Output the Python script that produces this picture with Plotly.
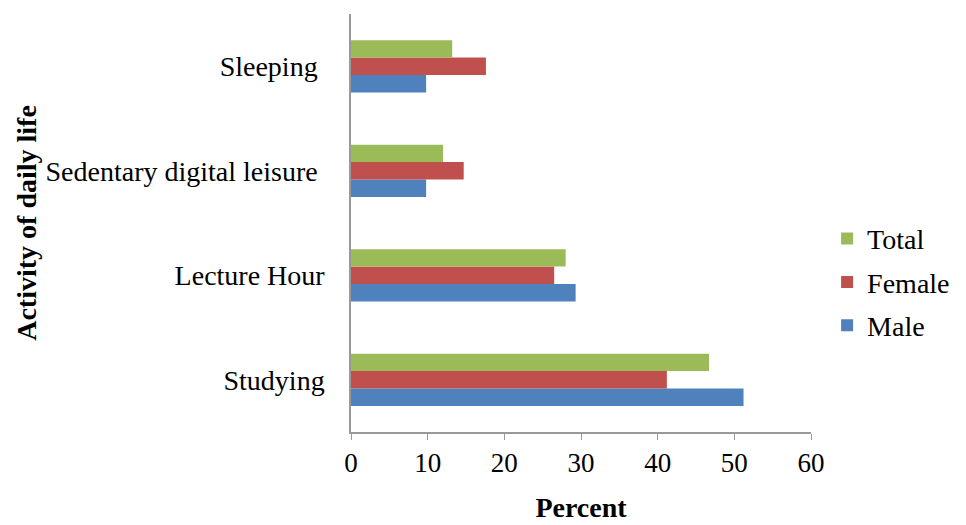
import plotly.graph_objects as go

categories = ["Studying", "Lecture Hour", "Sedentary digital leisure", "Sleeping"]
category_labels = ["Studying", "Lecture Hour", "Sedentary digital leisure\u00a0", "Sleeping\u00a0"]
male = [51.2, 29.3, 9.8, 9.8]
female = [41.2, 26.5, 14.7, 17.6]
total = [46.7, 28.0, 12.0, 13.2]
x_ticks = [0, 10, 20, 30, 40, 50, 60]

series = [("Male", male, "#4F81BD", 3), ("Female", female, "#C0504D", 2), ("Total", total, "#9BBB59", 1)]

FONT = "Liberation Serif"
fig = go.Figure()
for name, vals, col, rank in series:
    fig.add_trace(go.Bar(
        y=categories, x=vals, name=name, orientation="h",
        marker=dict(color=col, line=dict(width=0)), legendgroup=name, legendrank=rank,
    ))

fig.update_layout(
    width=966, height=525,
    margin=dict(l=343, r=163, t=6, b=101),
    paper_bgcolor="white", plot_bgcolor="white",
    barmode="group", bargap=0.5, bargroupgap=0,
    font=dict(family=FONT, color="black"),
    showlegend=True,
    legend=dict(
        x=1.035, y=0.358, xanchor="left", yanchor="middle",
        traceorder="grouped", tracegroupgap=4,
        font=dict(family=FONT, size=28, color="black"),
        itemwidth=30,
    ),
    xaxis=dict(
        range=[0, 60], tickvals=x_ticks, ticks="outside", ticklen=6, tickcolor="#999999",
        showline=True, linecolor="#999999", linewidth=1.5, showgrid=False, zeroline=False,
        tickfont=dict(family=FONT, size=27, color="black"),
        title=dict(text="<b>Percent</b>", font=dict(family=FONT, size=28, color="black"), standoff=20),
    ),
    yaxis=dict(
        showline=True, linecolor="#999999", linewidth=1.5, showgrid=False, zeroline=False,
        ticks="", ticklabelstandoff=19,
        tickmode="array", tickvals=categories, ticktext=category_labels,
        tickfont=dict(family=FONT, size=28, color="black"),
        title=dict(text="<b>Activity of daily life</b>", font=dict(family=FONT, size=28, color="black"), standoff=1),
    ),
)
fig.write_html("out.html")
